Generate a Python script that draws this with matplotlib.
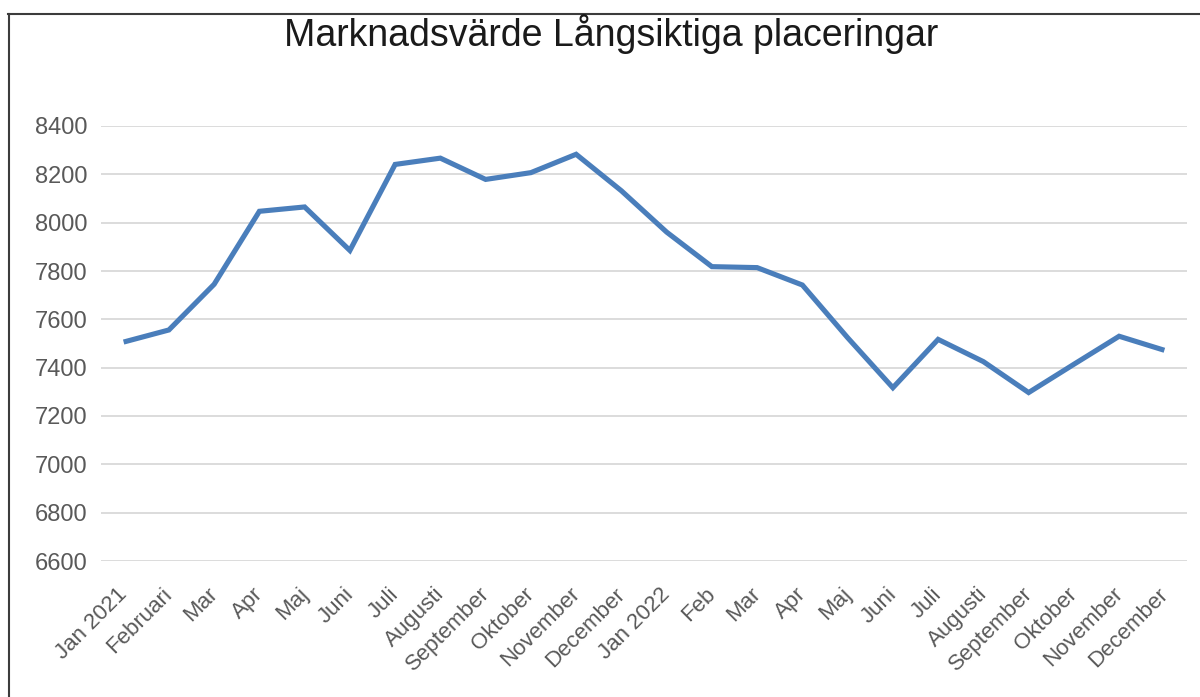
import matplotlib
matplotlib.use("Agg")
import matplotlib.pyplot as plt
from matplotlib.lines import Line2D
from matplotlib.transforms import ScaledTranslation

months = ["Jan 2021", "Februari", "Mar", "Apr", "Maj", "Juni", "Juli", "Augusti",
          "September", "Oktober", "November", "December",
          "Jan 2022", "Feb", "Mar", "Apr", "Maj", "Juni", "Juli", "Augusti",
          "September", "Oktober", "November", "December"]
values = [7506, 7556, 7745, 8047, 8065, 7885, 8241, 8267, 8179, 8207, 8283, 8132,
          7961, 7818, 7814, 7742, 7524, 7317, 7517, 7425, 7297, 7414, 7530, 7472]
yticks = [6600, 6800, 7000, 7200, 7400, 7600, 7800, 8000, 8200, 8400]
title = "Marknadsvärde Långsiktiga placeringar"

plt.rcParams['font.family'] = ['Liberation Sans', 'DejaVu Sans']

W, H = 1200, 697
fig = plt.figure(figsize=(W / 100, H / 100), dpi=100)
fig.patch.set_facecolor("white")

ax = fig.add_axes([101 / W, 1 - 561 / H, 1086 / W, (561 - 126) / H])
x = list(range(len(months)))
ax.plot(x, values, color="#4a7ebb", linewidth=3.7, solid_joinstyle="miter",
        solid_capstyle="butt", zorder=3)

ax.set_xlim(-0.5, len(months) - 0.5)
ax.set_ylim(6600, 8400)
ax.set_yticks(yticks)
ax.set_yticklabels([str(v) for v in yticks])
ax.grid(axis="y", color="#d9d9d9", linewidth=1.3, zorder=0)
ax.set_axisbelow(True)
for s in ax.spines.values():
    s.set_visible(False)
ax.tick_params(axis="y", length=0, pad=9.5, labelsize=17, labelcolor="#595959")
ax.tick_params(axis="x", length=0, pad=4, labelsize=16, labelcolor="#595959")
ax.set_xticks(x)
labels = ax.set_xticklabels(months, rotation=45, ha="right", va="top", rotation_mode="anchor")
off = ScaledTranslation(-7 / 100, -17 / 100, fig.dpi_scale_trans)
for lb in labels:
    lb.set_transform(lb.get_transform() + off)

fig.text(611 / W, 1 - 33.5 / H, title, ha="center", va="center", fontsize=27, color="#1a1a1a")

# partial frame (left and top edges)
fig.add_artist(Line2D([8.5 / W, 8.5 / W], [0, 1 - 14 / H], transform=fig.transFigure,
                      color="#3c3c3c", linewidth=1.5))
fig.add_artist(Line2D([8 / W, 1], [1 - 14 / H, 1 - 14 / H], transform=fig.transFigure,
                      color="#3c3c3c", linewidth=1.5))

fig.savefig("out.png", dpi=100)
